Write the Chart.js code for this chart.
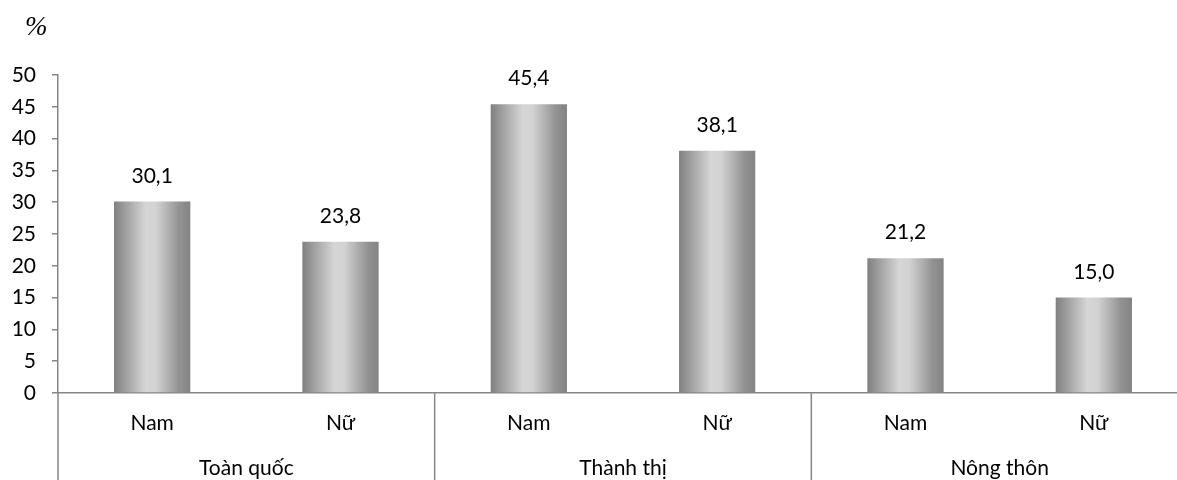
<!DOCTYPE html>
<html>
<head>
<meta charset="utf-8">
<script src="https://cdn.jsdelivr.net/npm/chart.js@4.4.1/dist/chart.umd.min.js"></script>
<style>
  html, body { margin: 0; padding: 0; background: #fff; overflow: hidden; }
  #wrap { position: relative; width: 1190px; height: 480px; }
  #unit { position: absolute; left: 25px; top: 13px; line-height: 1; font-family: "Liberation Serif", serif; font-style: italic; font-size: 27px; color: #000; }
</style>
</head>
<body>
<div id="wrap">
  <div id="unit">%</div>
  <canvas id="c" width="1190" height="480"></canvas>
</div>
<script>
// Sex labels per bar, and the area group each pair belongs to
const sexLabels = ['Nam', 'Nữ', 'Nam', 'Nữ', 'Nam', 'Nữ'];
const groupLabels = ['Toàn quốc', 'Thành thị', 'Nông thôn'];
const barsPerGroup = 2;
const values = [30.1, 23.8, 45.4, 38.1, 21.2, 15.0];
const yTicks = [0, 5, 10, 15, 20, 25, 30, 35, 40, 45, 50];

const FONT = 'Lato, "Open Sans", sans-serif';
const FS = 21;
const AXIS = '#868686';
const BAR_PCT = 0.405;

const fmt = v => v.toFixed(1).replace('.', ',');

// Horizontal metallic shading on each bar: dark edges, light centre
function barFill(ctx) {
  const chart = ctx.chart;
  const xs = chart.scales.x;
  if (!xs || !chart.chartArea) return '#b0b0b0';
  const cx = xs.getPixelForValue(ctx.dataIndex);
  const w = (xs.width / sexLabels.length) * BAR_PCT;
  const g = chart.ctx.createLinearGradient(cx - w / 2, 0, cx + w / 2, 0);
  g.addColorStop(0, '#808080');
  g.addColorStop(0.42, '#d6d6d6');
  g.addColorStop(0.55, '#d2d2d2');
  g.addColorStop(0.85, '#939393');
  g.addColorStop(1, '#838383');
  return g;
}

// Value labels above bars, group labels and separators below the axis
const decorations = {
  id: 'decorations',
  afterDraw(chart) {
    const ctx = chart.ctx;
    const xs = chart.scales.x;
    const area = chart.chartArea;
    ctx.save();
    ctx.fillStyle = '#000';
    ctx.font = FS + 'px ' + FONT;
    ctx.textAlign = 'center';
    ctx.textBaseline = 'alphabetic';
    chart.getDatasetMeta(0).data.forEach((el, i) => {
      ctx.fillText(fmt(values[i]), el.x, el.y - 19);
    });

    // group boundaries
    const half = (xs.getPixelForValue(1) - xs.getPixelForValue(0)) / 2;
    ctx.strokeStyle = AXIS;
    ctx.lineWidth = 1.5;
    for (let g = 0; g <= groupLabels.length; g++) {
      const x = xs.getPixelForValue(g * barsPerGroup) - half;
      ctx.beginPath();
      ctx.moveTo(x, area.bottom);
      ctx.lineTo(x, chart.height);
      ctx.stroke();
    }
    ctx.textBaseline = 'middle';
    groupLabels.forEach((name, g) => {
      const x0 = xs.getPixelForValue(g * barsPerGroup) - half;
      const x1 = xs.getPixelForValue(g * barsPerGroup + barsPerGroup - 1) + half;
      ctx.fillText(name, (x0 + x1) / 2, 468);
    });
    ctx.restore();
  }
};

new Chart(document.getElementById('c'), {
  type: 'bar',
  data: {
    labels: sexLabels,
    datasets: [{
      data: values,
      backgroundColor: barFill,
      borderWidth: 0,
      categoryPercentage: 1,
      barPercentage: BAR_PCT
    }]
  },
  options: {
    responsive: false,
    animation: false,
    events: [],
    layout: { padding: { top: 75, right: 2, left: 0, bottom: 0 } },
    plugins: { legend: { display: false }, tooltip: { enabled: false } },
    scales: {
      x: {
        grid: { display: false, drawTicks: false },
        border: { color: AXIS, width: 1.5 },
        ticks: { color: '#000', font: { family: FONT, size: FS }, padding: 18, maxRotation: 0 },
        afterFit: s => { s.height = 87; }
      },
      y: {
        min: 0, max: 50,
        afterBuildTicks: s => { s.ticks = yTicks.map(v => ({ value: v })); },
        grid: { display: true, drawOnChartArea: false, drawTicks: true, tickLength: 6, color: AXIS, lineWidth: 1.5 },
        border: { color: AXIS, width: 1.5 },
        ticks: { color: '#000', font: { family: FONT, size: FS }, padding: 16 },
        afterFit: s => { s.width = 58; }
      }
    }
  },
  plugins: [decorations]
});
</script>
</body>
</html>
